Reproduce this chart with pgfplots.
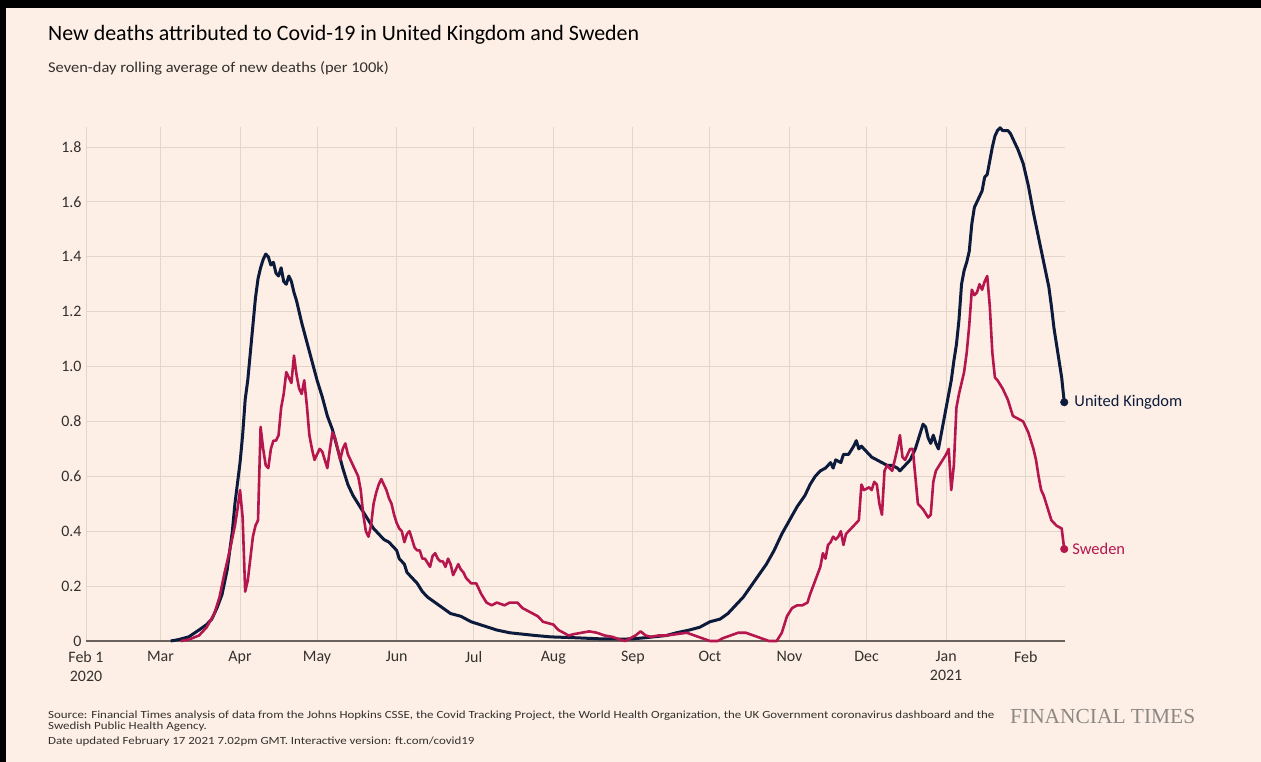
\documentclass[border=0pt]{standalone}
\usepackage{fontspec}
\setmainfont{Carlito}
\newfontfamily\ftserif{Liberation Serif}
\usepackage{pgfplots}
\usepackage{pgfplotstable}
\pgfplotsset{compat=1.18}
\definecolor{ftbg}{HTML}{FDEFE5}
\definecolor{uk}{HTML}{0C1A3C}
\definecolor{se}{HTML}{B5164D}
\definecolor{gridc}{HTML}{E2D6CB}
\definecolor{zeroc}{HTML}{6A625D}
\definecolor{txt}{HTML}{33302E}
\definecolor{ftgray}{HTML}{8E8884}

\pgfplotstableread{
d v
33 0.00
36 0.005
40 0.015
44 0.04
47 0.06
49 0.08
51 0.12
53 0.17
55 0.26
57 0.40
58 0.50
60 0.65
61 0.75
62 0.88
63 0.95
64 1.05
65 1.15
66 1.25
67 1.32
68 1.36
69 1.39
70 1.41
71 1.40
72 1.37
73 1.38
74 1.34
75 1.33
76 1.36
77 1.31
78 1.30
79 1.33
80 1.31
81 1.27
82 1.24
84 1.16
86 1.09
88 1.02
90 0.95
92 0.89
94 0.82
96 0.77
98 0.70
100 0.63
102 0.57
104 0.53
106 0.50
108 0.47
110 0.44
112 0.41
113 0.40
114 0.39
116 0.37
118 0.36
120 0.34
121 0.33
122 0.30
124 0.28
125 0.25
127 0.23
129 0.21
131 0.18
133 0.16
136 0.14
139 0.12
142 0.10
146 0.09
150 0.07
155 0.055
160 0.04
165 0.03
170 0.025
175 0.02
181 0.015
190 0.012
200 0.008
210 0.007
213 0.008
218 0.012
222 0.016
226 0.02
230 0.03
235 0.04
239 0.05
243 0.07
247 0.08
250 0.10
253 0.13
256 0.16
259 0.20
262 0.24
265 0.28
268 0.33
271 0.39
274 0.44
277 0.49
280 0.53
282 0.57
284 0.60
286 0.62
288 0.63
290 0.65
291 0.63
292 0.66
294 0.65
295 0.68
297 0.68
299 0.71
300 0.73
301 0.70
302 0.71
304 0.69
306 0.67
308 0.66
310 0.65
312 0.64
314 0.64
316 0.63
317 0.62
319 0.64
321 0.66
323 0.70
325 0.76
326 0.79
327 0.78
328 0.74
329 0.72
330 0.75
331 0.72
332 0.70
333 0.75
335 0.85
337 0.95
338 1.02
339 1.08
340 1.17
341 1.30
342 1.35
343 1.38
344 1.42
345 1.52
346 1.58
347 1.60
348 1.62
349 1.64
350 1.69
351 1.70
352 1.75
353 1.80
354 1.84
355 1.86
356 1.87
357 1.86
358 1.86
359 1.86
360 1.85
361 1.83
363 1.79
365 1.74
367 1.66
369 1.56
371 1.47
373 1.38
375 1.29
376 1.22
377 1.14
378 1.08
379 1.02
380 0.96
381 0.87
}\ukdata

\pgfplotstableread{
d v
37 0.00
40 0.005
44 0.02
47 0.05
50 0.10
52 0.16
54 0.25
56 0.33
58 0.42
59 0.48
60 0.55
61 0.45
62 0.18
63 0.22
64 0.30
65 0.38
66 0.42
67 0.44
68 0.78
69 0.70
70 0.64
71 0.63
72 0.70
73 0.73
74 0.73
75 0.75
76 0.85
77 0.90
78 0.98
79 0.96
80 0.94
81 1.04
82 0.97
83 0.92
84 0.90
85 0.95
86 0.86
87 0.75
88 0.70
89 0.66
90 0.68
91 0.70
92 0.69
93 0.66
94 0.63
95 0.70
96 0.76
97 0.74
98 0.70
99 0.66
100 0.70
101 0.72
102 0.68
103 0.66
104 0.64
105 0.62
106 0.60
107 0.55
108 0.46
109 0.40
110 0.38
111 0.42
112 0.50
113 0.54
114 0.57
115 0.59
116 0.57
117 0.55
118 0.52
119 0.50
120 0.46
121 0.43
122 0.41
123 0.40
124 0.36
125 0.39
126 0.40
127 0.37
128 0.34
129 0.33
130 0.33
131 0.30
132 0.30
134 0.27
135 0.31
136 0.32
137 0.30
138 0.29
139 0.29
140 0.27
141 0.30
142 0.28
143 0.24
144 0.26
145 0.28
146 0.26
147 0.25
148 0.23
150 0.21
152 0.21
154 0.17
156 0.14
158 0.13
160 0.14
163 0.13
165 0.14
168 0.14
170 0.12
172 0.11
174 0.10
176 0.09
178 0.07
180 0.065
182 0.06
184 0.04
186 0.03
188 0.02
190 0.025
193 0.03
196 0.035
199 0.03
202 0.02
205 0.015
208 0.005
210 0.0
212 0.01
214 0.02
216 0.035
218 0.02
220 0.015
223 0.02
226 0.02
230 0.025
234 0.03
237 0.02
240 0.01
243 0.0
246 0.0
248 0.01
251 0.02
254 0.03
257 0.03
260 0.02
263 0.01
266 0.0
269 0.0
271 0.03
273 0.09
275 0.12
277 0.13
279 0.13
281 0.14
282 0.17
284 0.22
286 0.27
287 0.32
288 0.30
289 0.35
290 0.36
291 0.38
292 0.37
293 0.38
294 0.40
295 0.35
296 0.39
297 0.40
299 0.42
301 0.44
302 0.57
303 0.55
305 0.56
306 0.55
307 0.58
308 0.57
309 0.50
310 0.46
311 0.62
312 0.64
313 0.63
314 0.62
316 0.70
317 0.75
318 0.67
319 0.66
320 0.68
321 0.70
322 0.70
323 0.60
324 0.50
326 0.48
328 0.45
329 0.46
330 0.58
331 0.62
333 0.65
335 0.68
336 0.70
337 0.55
338 0.64
339 0.85
340 0.90
341 0.94
342 0.98
343 1.05
344 1.15
345 1.28
346 1.26
347 1.27
348 1.30
349 1.28
350 1.31
351 1.33
352 1.22
353 1.05
354 0.96
355 0.95
357 0.92
359 0.88
361 0.82
363 0.81
365 0.80
366 0.78
367 0.76
368 0.73
369 0.70
370 0.66
371 0.60
372 0.55
373 0.53
374 0.50
375 0.47
376 0.44
377 0.43
378 0.42
380 0.41
381 0.335
}\sedata

\begin{document}
\begin{tikzpicture}[x=1bp,y=1bp]
\fill[ftbg] (0,0) rectangle (1261,762);
\fill[black] (0,0) rectangle (6,762);
\fill[black] (0,754) rectangle (1261,762);
\node[anchor=base west, inner sep=0, text=black, font=\fontsize{22}{26}\selectfont] at (48,721) {New deaths attributed to Covid-19 in United Kingdom and Sweden};
\node[anchor=base west, inner sep=0, text=txt, font=\fontsize{15}{18}\selectfont] at (48,689) {\scalebox{1.1}[1]{Seven-day rolling average of new deaths (per 100k)}};
\begin{axis}[
  at={(86bp,121bp)}, anchor=south west,
  scale only axis, width=979bp, height=514bp,
  xmin=0, xmax=381.3, ymin=0, ymax=1.873,
  clip=false,
  axis x line*=bottom, axis y line*=left,
  x axis line style={draw=zeroc, line width=1.6bp, -},
  y axis line style={draw=none},
  major tick length=0pt,
  xtick={0,29,60,90,121,151,182,213,243,274,304,335,366},
  xticklabels={Feb 1\\2020,Mar,Apr,May,Jun,Jul,Aug,Sep,Oct,Nov,Dec,Jan\\2021,Feb},
  ytick={0,0.2,0.4,0.6,0.8,1.0,1.2,1.4,1.6,1.8},
  yticklabels={0,0.2,0.4,0.6,0.8,1.0,1.2,1.4,1.6,1.8},
  xticklabel style={align=center, text=txt, font=\fontsize{16}{18.5}\selectfont, yshift=-7bp},
  yticklabel style={text=txt, font=\fontsize{16}{18}\selectfont, xshift=-1bp},
  grid=major,
  major grid style={draw=gridc, line width=0.9bp},
]
\addplot[uk, line width=3bp, line join=round] table[x=d, y=v] {\ukdata};
\addplot[se, line width=2.6bp, line join=round] table[x=d, y=v] {\sedata};
\addplot[only marks, mark=*, mark size=3.8bp, uk] coordinates {(381,0.87)};
\addplot[only marks, mark=*, mark size=3.8bp, se] coordinates {(381,0.335)};
\node[anchor=west, text=uk, font=\fontsize{16.5}{19}\selectfont, inner sep=0] at (axis cs:381,0.87) [xshift=10bp] {United Kingdom};
\node[anchor=west, text=se, font=\fontsize{16.5}{19}\selectfont, inner sep=0] at (axis cs:381,0.335) [xshift=8bp] {Sweden};
\end{axis}
\node[anchor=base west, inner sep=0, text=txt, font=\fontsize{11}{13}\selectfont] at (48,43) {\scalebox{1.18}[1]{Source: Financial Times analysis of data from the Johns Hopkins CSSE, the Covid Tracking Project, the World Health Organization, the UK Government coronavirus dashboard and the}};
\node[anchor=base west, inner sep=0, text=txt, font=\fontsize{11}{13}\selectfont] at (48,32) {\scalebox{1.18}[1]{Swedish Public Health Agency.}};
\node[anchor=base west, inner sep=0, text=txt, font=\fontsize{11}{13}\selectfont] at (48,17) {\scalebox{1.18}[1]{Date updated February 17 2021 7.02pm GMT. Interactive version: ft.com/covid19}};
\node[anchor=base west, inner sep=0, text=ftgray, font=\ftserif\fontsize{21.5}{24}\selectfont] at (1010,38) {FINANCIAL TIMES};
\end{tikzpicture}
\end{document}
